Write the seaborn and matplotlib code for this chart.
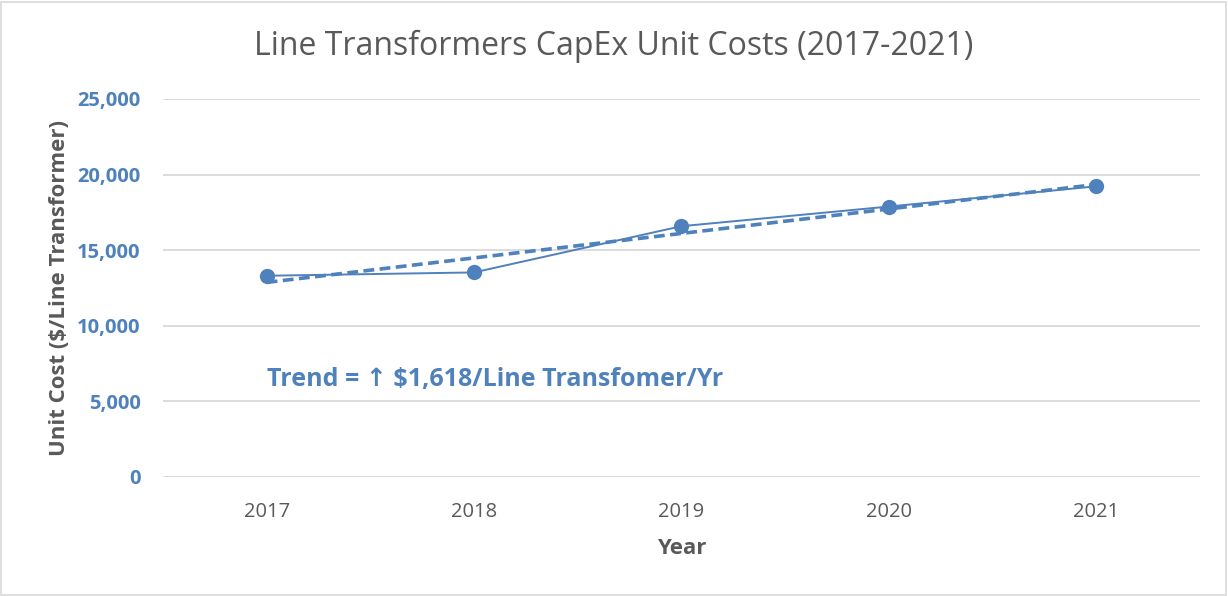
import numpy as np
import pandas as pd
import seaborn as sns
import matplotlib.pyplot as plt
from matplotlib.patches import Rectangle

# Chart data
years = [2017, 2018, 2019, 2020, 2021]
unit_cost = [13300, 13520, 16580, 17880, 19220]
y_ticks = [0, 5000, 10000, 15000, 20000, 25000]

title = "Line Transformers CapEx Unit Costs (2017-2021)"
trend_label = "Trend = \u2191 $1,618/Line Transfomer/Yr"

df = pd.DataFrame({"Year": years, "Unit Cost": unit_cost})

blue = "#4F81BD"
gray_text = "#595959"

sns.set_theme(style="white")
plt.rcParams['font.family'] = ['Open Sans', 'DejaVu Sans']

fig = plt.figure(figsize=(12.28, 5.96), dpi=100)
ax = fig.add_axes([0.1327, 0.2002, 0.8443, 0.6337])

# gridlines
for v in y_ticks:
    ax.axhline(v, color="#D9D9D9", lw=1.3, zorder=0)

# linear trend line (dashed)
sns.regplot(data=df, x="Year", y="Unit Cost", ax=ax, scatter=False, ci=None,
            line_kws={"color": blue, "lw": 2.6, "ls": (0, (3, 1.5))})

# actual values
sns.lineplot(data=df, x="Year", y="Unit Cost", ax=ax, color=blue, lw=1.4,
             marker="o", markersize=11, markeredgewidth=0)

ax.set_xlim(2016.5, 2021.5)
ax.set_ylim(0, 25000)
ax.set_xticks(years)
ax.set_xticklabels([str(y) for y in years], color=gray_text, fontsize=14.5)
ax.set_yticks(y_ticks)
ax.set_yticklabels([f"{v:,}" for v in y_ticks], color=blue, fontsize=14.5,
                   fontweight="bold")
ax.tick_params(axis="x", length=0, pad=18)
ax.tick_params(axis="y", length=0, pad=16)

for s in ax.spines.values():
    s.set_visible(False)

ax.set_xlabel("Year", color=gray_text, fontsize=16, fontweight="bold", labelpad=12)
ax.set_ylabel("Unit Cost ($/Line Transformer)", color=gray_text, fontsize=16,
              fontweight="bold", labelpad=5)

fig.text(0.5, 0.922, title, ha="center", va="center", fontsize=23,
         color=gray_text)

ax.text(2017.0, 6400, trend_label, color=blue, fontsize=18, fontweight="bold",
        ha="left", va="center", family=['Open Sans', 'DejaVu Sans'])

# outer chart border
fig.patches.append(Rectangle((0.001, 0.002), 0.997, 0.995, transform=fig.transFigure,
                             fill=False, edgecolor="#D9D9D9", lw=1.2))

fig.savefig("out.png", dpi=100)
